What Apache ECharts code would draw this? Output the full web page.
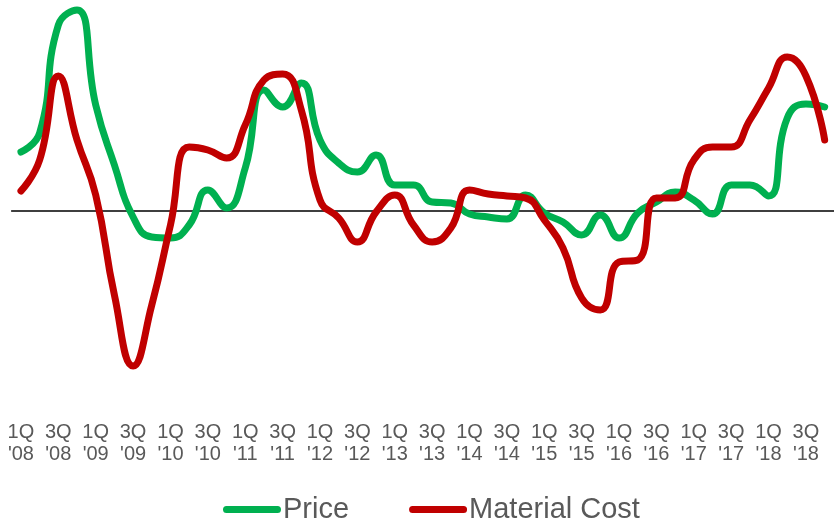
<!DOCTYPE html>
<html>
<head>
<meta charset="utf-8">
<script src="https://cdn.jsdelivr.net/npm/echarts@6/dist/echarts.min.js"></script>
<style>
  html, body { margin: 0; padding: 0; background: #fff; }
  #chart { width: 834px; height: 522px; }
</style>
</head>
<body>
<div id="chart"></div>
<script>
// Quarterly series, 1Q 2008 to 4Q 2018 (year-over-year change, %)
const years = ['08', '09', '10', '11', '12', '13', '14', '15', '16', '17', '18'];
const quarterNames = ['1Q', '2Q', '3Q', '4Q'];
const categories = [];
years.forEach(y => quarterNames.forEach(q => categories.push(q + "\n'" + y)));

const price = [
  5.9, 7.8, 18.6, 20.1, 10.6, 4.6, -0.6, -2.6, -2.7, -1.4, 2.1,
  0.3, 4.3, 12.1, 10.4, 12.8, 7.1, 4.8, 3.9, 5.6, 2.6, 2.6,
  0.9, 0.8, -0.3, -0.6, -0.8, 1.6, -0.2, -1.1, -2.4, -0.4, -2.7,
  -0.2, 0.9, 1.9, 1.1, -0.3, 2.6, 2.6, 1.5, 9.3, 10.7, 10.4
];
const materialCost = [
  2.0, 5.1, 13.5, 7.1, 1.6, -8.4, -15.5, -9.4, -1.4, 6.4, 6.1,
  5.3, 8.6, 13.1, 13.7, 10.1, 1.1, -0.7, -3.1, -0.1, 1.6, -1.4,
  -3.1, -1.7, 2.1, 1.7, 1.5, 1.3, -0.9, -3.7, -8.7, -9.9, -5.1,
  -4.9, 1.3, 1.3, 5.1, 6.4, 6.4, 9.1, 12.3, 15.4, 13.5, 7.1
];

const GREEN = '#00B050';
const RED = '#C00000';
const TEXT = '#595959';
const FONT = '"Liberation Sans", Arial, sans-serif';
const pill = 'path://M3.5,0 H54.5 A3.5,3.5 0 0 1 54.5,7 H3.5 A3.5,3.5 0 0 1 3.5,0 Z';

const chart = echarts.init(document.getElementById('chart'), null, { renderer: 'canvas' });
chart.setOption({
  animation: false,
  backgroundColor: '#ffffff',
  grid: { left: 11.6, width: 826, top: 1, height: 410, containLabel: false },
  xAxis: [
    {
      // zero line
      type: 'category',
      data: categories,
      boundaryGap: true,
      position: 'bottom',
      axisLine: { show: true, onZero: true, lineStyle: { color: '#000', width: 1.5 } },
      axisTick: { show: false },
      axisLabel: { show: false },
      splitLine: { show: false }
    },
    {
      // quarter labels
      type: 'category',
      data: categories,
      boundaryGap: true,
      position: 'bottom',
      axisLine: { show: false, onZero: false },
      axisTick: { show: false },
      splitLine: { show: false },
      axisLabel: {
        interval: 1,
        margin: 10,
        color: TEXT,
        fontFamily: FONT,
        fontSize: 20,
        lineHeight: 22
      }
    }
  ],
  yAxis: { type: 'value', min: -20, max: 21, show: false, splitLine: { show: false } },
  legend: {
    left: 218,
    top: 490,
    itemWidth: 58,
    itemHeight: 7,
    itemGap: 60,
    textStyle: { color: TEXT, fontFamily: FONT, fontSize: 29, padding: [0, 0, 0, -3] },
    data: [
      { name: 'Price', icon: pill },
      { name: 'Material Cost', icon: pill }
    ]
  },
  series: [
    {
      name: 'Price',
      type: 'line',
      xAxisIndex: 0,
      data: price,
      smooth: 0.5,
      showSymbol: false,
      symbol: 'none',
      clip: false,
      color: GREEN,
      lineStyle: { color: GREEN, width: 7, cap: 'round', join: 'round' }
    },
    {
      name: 'Material Cost',
      type: 'line',
      xAxisIndex: 0,
      data: materialCost,
      smooth: 0.5,
      showSymbol: false,
      symbol: 'none',
      clip: false,
      color: RED,
      lineStyle: { color: RED, width: 7, cap: 'round', join: 'round' }
    }
  ]
});
</script>
</body>
</html>
